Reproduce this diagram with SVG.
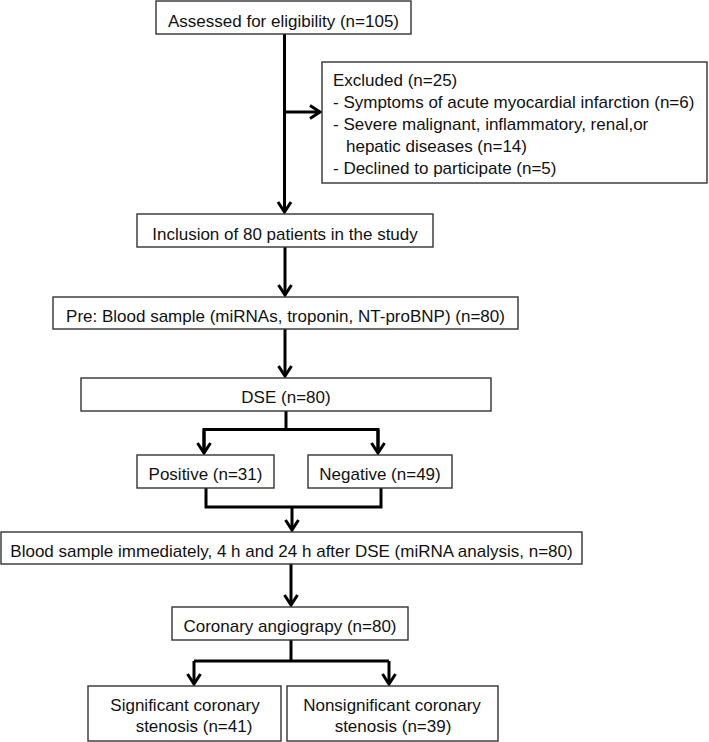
<svg xmlns="http://www.w3.org/2000/svg" width="709" height="742" viewBox="0 0 709 742">
<style>
.box{fill:#fff;stroke:#333;stroke-width:1.4}
text{font-family:"Liberation Sans",Arial,sans-serif;font-size:17px;fill:#111}
.c{text-anchor:middle}
.con{fill:none;stroke:#000;stroke-width:3}
</style>
<defs>
<marker id="ah" markerUnits="userSpaceOnUse" markerWidth="20" markerHeight="20" refX="0" refY="0" orient="auto" overflow="visible">
<path d="M-10,-6.5 L0,0 L-10,6.5" fill="none" stroke="#000" stroke-width="3"/>
</marker>
</defs>
<rect width="709" height="742" fill="#fff"/>
<g id="connectors">
<path class="con" d="M284.5,34 V212" marker-end="url(#ah)"/>
<path class="con" d="M284.5,112 H320" marker-end="url(#ah)"/>
<path class="con" d="M285,247 V295" marker-end="url(#ah)"/>
<path class="con" d="M285,329 V376" marker-end="url(#ah)"/>
<path class="con" d="M286,411 V429.5"/>
<path class="con" d="M204,453 V429.5 H378 V453"/>
<path class="con" d="M204,429.5 V453" marker-end="url(#ah)"/>
<path class="con" d="M378,429.5 V453" marker-end="url(#ah)"/>
<path class="con" d="M206,488 V507 H381 V488"/>
<path class="con" d="M292,507 V530" marker-end="url(#ah)"/>
<path class="con" d="M291,564 V605" marker-end="url(#ah)"/>
<path class="con" d="M291,640 V661"/>
<path class="con" d="M194,661 H389"/>
<path class="con" d="M194,661 V684" marker-end="url(#ah)"/>
<path class="con" d="M389,661 V684" marker-end="url(#ah)"/>
</g>
<g id="assessed">
<rect class="box" x="156" y="1" width="255" height="33"/>
<text class="c" x="283.5" y="26.5">Assessed for eligibility (n=105)</text>
</g>
<g id="excluded">
<rect class="box" x="322" y="62" width="385" height="121"/>
<text x="333" y="86">Excluded (n=25)</text>
<text x="333" y="108">- Symptoms of acute myocardial infarction (n=6)</text>
<text x="333" y="130">- Severe malignant, inflammatory, renal,or</text>
<text x="346" y="152">hepatic diseases (n=14)</text>
<text x="333" y="174">- Declined to participate (n=5)</text>
</g>
<g id="inclusion">
<rect class="box" x="137" y="214" width="296" height="33"/>
<text class="c" x="285" y="239.5">Inclusion of 80 patients in the study</text>
</g>
<g id="pre">
<rect class="box" x="53" y="297" width="465" height="32"/>
<text class="c" x="285.5" y="322">Pre: Blood sample (miRNAs, troponin, NT-proBNP) (n=80)</text>
</g>
<g id="dse">
<rect class="box" x="81" y="378" width="410" height="33"/>
<text class="c" x="286" y="403">DSE (n=80)</text>
</g>
<g id="positive">
<rect class="box" x="137" y="455" width="137" height="33"/>
<text class="c" x="205.5" y="480">Positive (n=31)</text>
</g>
<g id="negative">
<rect class="box" x="308" y="455" width="144" height="33"/>
<text class="c" x="380" y="480">Negative (n=49)</text>
</g>
<g id="blood">
<rect class="box" x="1" y="532" width="581" height="32"/>
<text class="c" x="291.5" y="557">Blood sample immediately, 4 h and 24 h after DSE (miRNA analysis, n=80)</text>
</g>
<g id="coronary">
<rect class="box" x="172" y="607" width="236" height="33"/>
<text class="c" x="290" y="632">Coronary angiograpy (n=80)</text>
</g>
<g id="significant">
<rect class="box" x="88" y="686" width="193" height="55"/>
<text class="c" x="185" y="711">Significant coronary</text>
<text class="c" x="194" y="732">stenosis (n=41)</text>
</g>
<g id="nonsignificant">
<rect class="box" x="287" y="686" width="211" height="55"/>
<text class="c" x="392" y="711">Nonsignificant coronary</text>
<text class="c" x="393" y="732">stenosis (n=39)</text>
</g>
</svg>
